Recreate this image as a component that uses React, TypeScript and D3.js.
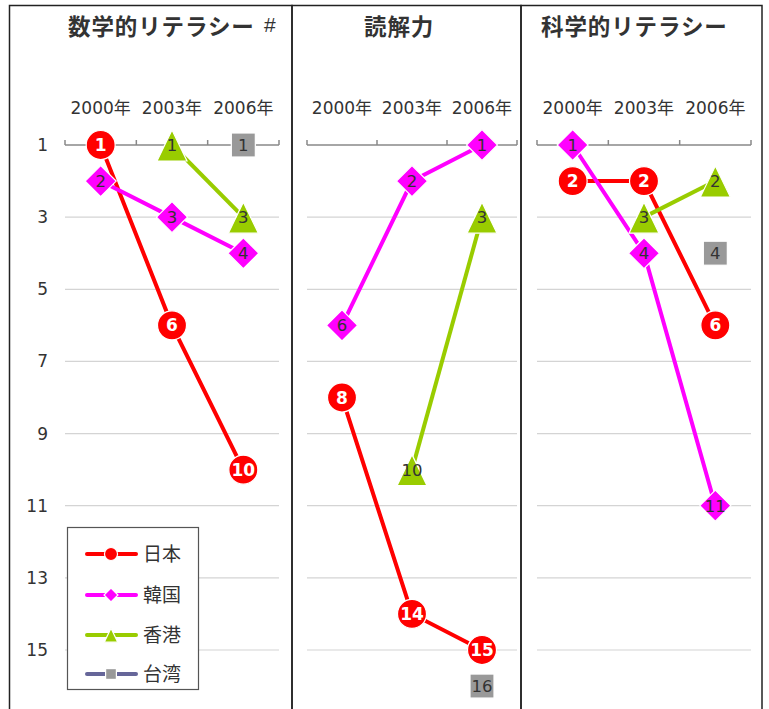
import React from "react";
import * as d3 from "d3";

const years = ["2000年", "2003年", "2006年"];
const countries = ["日本", "韓国", "香港", "台湾"];
const yTicks = [1, 3, 5, 7, 9, 11, 13, 15];
const gridTicks = [3, 5, 7, 9, 11, 13, 15, 17];

const mathJapan = [1, 6, 10];
const mathKorea = [2, 3, 4];
const mathHK = [null, 1, 3];
const mathTaiwan = [null, null, 1];

const readJapan = [8, 14, 15];
const readKorea = [6, 2, 1];
const readHK = [null, 10, 3];
const readTaiwan = [null, null, 16];

const sciJapan = [2, 2, 6];
const sciKorea = [1, 4, 11];
const sciHK = [null, 3, 2];
const sciTaiwan = [null, null, 4];

const lineColors = ["#FF0000", "#FF00FF", "#99CC00", "#666699"];
const markerColors = ["#FF0000", "#FF00FF", "#99CC00", "#999999"];
const markerTypes = ["circle", "diamond", "triangle", "square"];

const FONT = "'DejaVu Sans', 'Noto Sans CJK JP', sans-serif";
const TITLE_FONT = "'Noto Sans CJK JP', sans-serif";

const panels = [
  { title: "数学的リテラシー", extra: "#", titleX: 68, box: [9.5, 292], plot: [65, 279], series: [mathJapan, mathKorea, mathHK, mathTaiwan], yAxis: true },
  { title: "読解力", extra: "", titleX: 364, box: [292, 521], plot: [307, 517], series: [readJapan, readKorea, readHK, readTaiwan], yAxis: false },
  { title: "科学的リテラシー", extra: "", titleX: 541, box: [521, 762], plot: [537, 751], series: [sciJapan, sciKorea, sciHK, sciTaiwan], yAxis: false },
];

const y = d3.scaleLinear().domain([1, 17]).range([145, 145 + 16 * 36.07]);

function Marker({ type, cx, cy, color, scale = 1 }: any) {
  const sw = 1.2;
  if (type === "circle") return <circle cx={cx} cy={cy} r={14.5 * scale} fill={color} stroke="#fff" strokeWidth={sw} />;
  if (type === "diamond") {
    const h = 15.5 * scale;
    return <path d={`M${cx},${cy - h}L${cx + h},${cy}L${cx},${cy + h}L${cx - h},${cy}Z`} fill={color} stroke="#fff" strokeWidth={sw} />;
  }
  if (type === "triangle") {
    const w = 15 * scale;
    return <path d={`M${cx},${cy - 15 * scale}L${cx + w},${cy + 16 * scale}L${cx - w},${cy + 16 * scale}Z`} fill={color} stroke="#fff" strokeWidth={sw} />;
  }
  const s = 12 * scale;
  return <rect x={cx - s} y={cy - s} width={2 * s} height={2 * s} fill={color} stroke="#fff" strokeWidth={sw} />;
}

function Panel({ p }: any) {
  const x = d3.scaleBand().domain(years).range(p.plot).padding(0);
  const cx = (yr: string) => (x(yr) as number) + x.bandwidth() / 2;
  const bounds = [p.plot[0], ...years.slice(1).map((yr) => x(yr) as number), p.plot[1]];
  const line = d3
    .line<any>()
    .defined((d) => d.v != null)
    .x((d) => cx(d.yr))
    .y((d) => y(d.v));
  return (
    <g>
      <rect x={p.box[0]} y={5.5} width={p.box[1] - p.box[0]} height={720} fill="none" stroke="#222" strokeWidth={1.5} />
      <text x={p.titleX} y={35} fontFamily={TITLE_FONT} fontWeight="bold" fontSize={22.5} fill="#333" letterSpacing={0.9}>
        {p.title}
      </text>
      {p.extra && (
        <text x={264} y={32} fontFamily="'Liberation Sans', sans-serif" fontSize={21} fill="#333">
          {p.extra}
        </text>
      )}
      {years.map((yr) => (
        <text key={yr} x={cx(yr)} y={114} textAnchor="middle" fontFamily={FONT} fontSize={17} fill="#333">
          {yr}
        </text>
      ))}
      {gridTicks.map((t) => (
        <line key={t} x1={p.plot[0]} x2={p.plot[1]} y1={y(t)} y2={y(t)} stroke="#d4d4d4" strokeWidth={1.2} />
      ))}
      <line x1={p.plot[0]} x2={p.plot[1]} y1={y(1)} y2={y(1)} stroke="#888" strokeWidth={1.5} />
      {bounds.map((b, i) => (
        <line key={i} x1={b} x2={b} y1={y(1)} y2={y(1) - 5} stroke="#888" strokeWidth={1.5} />
      ))}
      {p.yAxis &&
        yTicks.map((t) => (
          <text key={t} x={48} y={y(t)} dy="0.35em" textAnchor="end" fontFamily={FONT} fontSize={17} fill="#333">
            {t}
          </text>
        ))}
      {p.series.map((vals: (number | null)[], si: number) => {
        const pts = years.map((yr, i) => ({ yr, v: vals[i] }));
        return (
          <g key={si}>
            <path d={line(pts) || ""} fill="none" stroke={lineColors[si]} strokeWidth={4} />
            {pts
              .filter((d) => d.v != null)
              .map((d) => (
                <Marker key={d.yr} type={markerTypes[si]} cx={cx(d.yr)} cy={y(d.v as number)} color={markerColors[si]} />
              ))}
          </g>
        );
      })}
      {p.series.map((vals: (number | null)[], si: number) =>
        years.map((yr, i) =>
          vals[i] == null ? null : (
            <text
              key={`${si}-${yr}`}
              x={cx(yr)}
              y={y(vals[i] as number)}
              dy="0.36em"
              textAnchor="middle"
              fontFamily={FONT}
              fontSize={si === 0 ? 17 : 16.5}
              fontWeight={si === 0 ? "bold" : "normal"}
              fill={si === 0 ? "#fff" : "#333"}
            >
              {vals[i]}
            </text>
          )
        )
      )}
    </g>
  );
}

function Legend() {
  const x0 = 67.5, y0 = 527.5, w = 131, h = 162;
  const rows = [554, 595, 635, 674];
  return (
    <g>
      <rect x={x0} y={y0} width={w} height={h} fill="#fff" stroke="#555" strokeWidth={1.2} />
      {countries.map((c, i) => (
        <g key={c}>
          <line x1={87} x2={136} y1={rows[i]} y2={rows[i]} stroke={lineColors[i]} strokeWidth={4} strokeLinecap="round" />
          <Marker type={markerTypes[i]} cx={111} cy={rows[i]} color={markerColors[i]} scale={0.45} />
          <text x={143} y={rows[i]} dy="0.36em" fontFamily={FONT} fontSize={19} fill="#333">
            {c}
          </text>
        </g>
      ))}
    </g>
  );
}

export default function App() {
  return (
    <svg width={769} height={709} style={{ position: "absolute", left: 0, top: 0, background: "#fff" }}>
      <rect width={769} height={709} fill="#fff" />
      {panels.map((p, i) => (
        <Panel key={i} p={p} />
      ))}
      <Legend />
    </svg>
  );
}
